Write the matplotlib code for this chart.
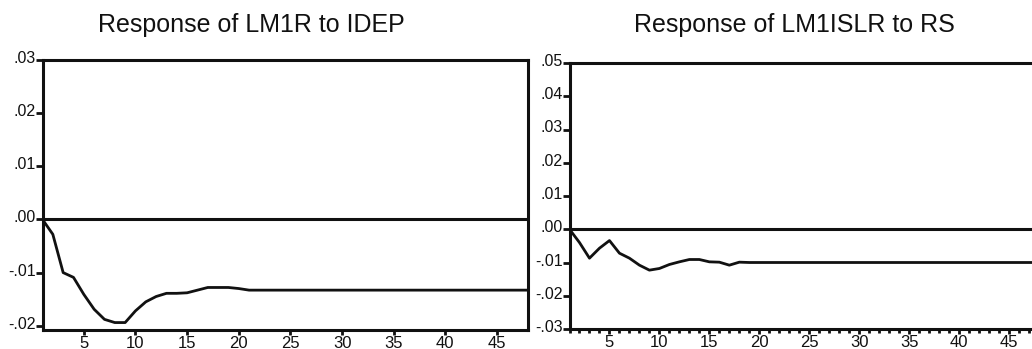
import matplotlib
matplotlib.use("Agg")
import matplotlib.pyplot as plt
import matplotlib.transforms as mtransforms
from matplotlib.ticker import FixedLocator, FuncFormatter, MultipleLocator

plt.rcParams['font.family'] = ['Liberation Sans', 'DejaVu Sans']

# periods 1..48 of the impulse responses
periods = list(range(1, 49))

# response of LM1R to IDEP (first 21 periods, then flat)
lm1r_idep = [0.0, -0.0028, -0.0100, -0.0109, -0.0141, -0.0169, -0.0188, -0.0194,
             -0.0194, -0.0172, -0.0155, -0.0145, -0.0139, -0.0139, -0.0138,
             -0.0133, -0.0128, -0.0128, -0.0128, -0.0130, -0.0133]
lm1r_idep += [-0.0133] * (48 - len(lm1r_idep))

# response of LM1ISLR to RS
lm1islr_rs = [0.0, -0.0040, -0.0087, -0.0057, -0.0034, -0.0072, -0.0087, -0.0108,
              -0.0123, -0.0118, -0.0106, -0.0098, -0.0091, -0.0091, -0.0098,
              -0.0099, -0.0108, -0.0099]
lm1islr_rs += [-0.0100] * (48 - len(lm1islr_rs))

left_title = "Response of LM1R to IDEP"
right_title = "Response of LM1ISLR to RS"
left_yticks = [-0.02, -0.01, 0.0, 0.01, 0.02, 0.03]
right_yticks = [-0.03, -0.02, -0.01, 0.0, 0.01, 0.02, 0.03, 0.04, 0.05]
xticks = [5, 10, 15, 20, 25, 30, 35, 40, 45]

INK = "#111111"
W, H = 1032, 349


def fmt(v, pos):
    s = f"{v:.2f}"
    return s.replace("0.", ".", 1)


def style_axes(ax, yticks, ylim, minor):
    ax.set_xlim(1, 48)
    ax.set_ylim(*ylim)
    for sp in ax.spines.values():
        sp.set_linewidth(2.2)
        sp.set_color(INK)
    ax.axhline(0, color=INK, lw=2.2, zorder=2)
    ax.yaxis.set_major_locator(FixedLocator(yticks))
    ax.yaxis.set_major_formatter(FuncFormatter(fmt))
    ax.xaxis.set_major_locator(FixedLocator(xticks))
    ax.tick_params(axis='y', direction='out', length=5, width=2, pad=0,
                   labelsize=11.5, colors=INK)
    ax.tick_params(axis='x', direction='out', length=3.5, width=2, pad=0.5,
                   labelsize=12, colors=INK)
    if minor:
        ax.xaxis.set_minor_locator(MultipleLocator(1))
        ax.tick_params(axis='x', which='minor', direction='out', length=3,
                       width=2, colors=INK)
    # lift the y labels a touch above their ticks
    shift = mtransforms.ScaledTranslation(0, 3 / 100, ax.figure.dpi_scale_trans)
    for lab in ax.get_yticklabels():
        lab.set_transform(lab.get_transform() + shift)


fig = plt.figure(figsize=(W / 100, H / 100), dpi=100)

ax1 = fig.add_axes([42.5 / W, 1 - 330 / H, (528 - 42.5) / W, (330 - 60) / H])
ax1.plot(periods, lm1r_idep, color=INK, lw=2.0, zorder=3)
style_axes(ax1, left_yticks, (-0.0208, 0.03), minor=False)

ax2 = fig.add_axes([569.5 / W, 1 - 329 / H, (1039 - 569.5) / W, (329 - 63) / H])
ax2.plot(periods, lm1islr_rs, color=INK, lw=2.0, zorder=3)
style_axes(ax2, right_yticks, (-0.03, 0.05), minor=True)

fig.text(251 / W, 1 - 25 / H, left_title, ha='center', va='center',
         fontsize=18, color=INK)
fig.text(794 / W, 1 - 25 / H, right_title, ha='center', va='center',
         fontsize=18, color=INK)

fig.savefig("out.png", dpi=100, facecolor="white")
